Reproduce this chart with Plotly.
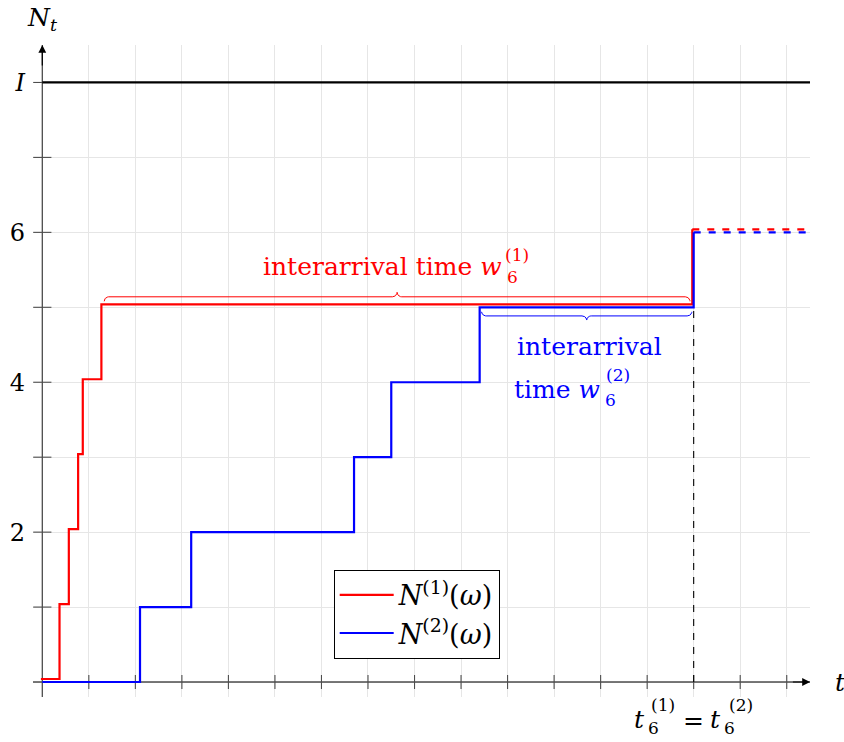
import numpy as np
import plotly.graph_objects as go

# Arrival times of the two counting-process paths
red_jumps = [0.4, 0.6, 0.8, 0.9, 1.3, 14.0]
blue_jumps = [2.1, 3.2, 6.7, 7.5, 9.4, 14.0]
t_max = 16.5
level_I = 8
y_tickvals = [2, 4, 6, 8]
y_ticktext = ["2", "4", "6", "<i>I</i>"]
x_grid = list(range(0, 17))
y_grid = list(range(0, 9))

RED = "#ff0000"
BLUE = "#0000ff"
AXIS = "#4d4d4d"
GRID = "#e6e6e6"
FONT = "DejaVu Serif"
FS = 24      # main text size
FS_L = 25    # annotation text size
FS_S = 17    # sub/superscript size

# small display offset so the red path stays visible on top of the blue one
red_dx, red_dy = -0.03, 0.04


def step_path(jumps):
    xs, ys = [0.0], [0.0]
    for k, t in enumerate(jumps):
        xs += [t, t]
        ys += [k, k + 1]
    return xs, ys


def brace_path(x0, x1, y, amp, rx, n=14):
    """Curly brace from x0 to x1 at height y; amp>0 points up, amp<0 down."""
    xm = 0.5 * (x0 + x1)
    h = 0.5 * amp
    th = np.linspace(0, np.pi / 2, n)
    lx = np.concatenate([x0 + rx - rx * np.cos(th), xm - rx + rx * np.sin(th)])
    ly = np.concatenate([y + h * np.sin(th), y + 2 * h - h * np.cos(th)])
    rx_ = 2 * xm - lx[::-1]
    ry_ = ly[::-1]
    return np.concatenate([lx, rx_]), np.concatenate([ly, ry_])


fig = go.Figure()

# axes lines (drawn first so the paths sit above them)
fig.add_trace(go.Scatter(x=[-0.2, t_max], y=[0, 0], mode="lines",
                         line=dict(color=AXIS, width=1.3), showlegend=False, hoverinfo="skip"))
fig.add_trace(go.Scatter(x=[0, 0], y=[-0.2, 8.5], mode="lines",
                         line=dict(color=AXIS, width=1.3), showlegend=False, hoverinfo="skip"))
# tick marks crossing the axes
fig.add_trace(go.Scatter(x=x_grid[1:], y=[0] * (len(x_grid) - 1), mode="markers",
                         marker=dict(symbol="line-ns", size=10, line=dict(color=AXIS, width=1.1)),
                         showlegend=False, hoverinfo="skip"))
fig.add_trace(go.Scatter(x=[0] * (len(y_grid) - 1), y=y_grid[1:], mode="markers",
                         marker=dict(symbol="line-ew", size=13, line=dict(color=AXIS, width=1.1)),
                         showlegend=False, hoverinfo="skip"))

# upper bound I
fig.add_trace(go.Scatter(x=[0, t_max], y=[level_I, level_I], mode="lines",
                         line=dict(color="black", width=2.2), showlegend=False, hoverinfo="skip"))

# common sixth arrival time
t6 = blue_jumps[-1]
fig.add_trace(go.Scatter(x=[t6, t6], y=[0, len(blue_jumps) - 1], mode="lines",
                         line=dict(color="black", width=1.1, dash="7px,7px"),
                         showlegend=False, hoverinfo="skip"))

# sample paths
bx, by = step_path(blue_jumps)
rx, ry = step_path(red_jumps)
fig.add_trace(go.Scatter(x=[v + red_dx for v in rx], y=[v + red_dy for v in ry], mode="lines",
                         line=dict(color=RED, width=2.2),
                         name="<i>N</i><sup>(1)</sup>(<i>ω</i>)"))
fig.add_trace(go.Scatter(x=bx, y=by, mode="lines", line=dict(color=BLUE, width=2.2),
                         name="<i>N</i><sup>(2)</sup>(<i>ω</i>)"))
# continuation after the last arrival
fig.add_trace(go.Scatter(x=[red_jumps[-1] + red_dx, t_max],
                         y=[len(red_jumps) + red_dy] * 2, mode="lines",
                         line=dict(color=RED, width=2.2, dash="7px,8px"),
                         showlegend=False, hoverinfo="skip"))
fig.add_trace(go.Scatter(x=[blue_jumps[-1], t_max], y=[len(blue_jumps)] * 2, mode="lines",
                         line=dict(color=BLUE, width=2.2, dash="7px,8px"),
                         showlegend=False, hoverinfo="skip"))

# braces marking the sixth interarrival times
k5 = len(red_jumps) - 1
rbx, rby = brace_path(red_jumps[-2] + 0.03, red_jumps[-1] - 0.08, k5 + 0.08, 0.12, 0.1)
fig.add_trace(go.Scatter(x=rbx, y=rby, mode="lines", line=dict(color=RED, width=1),
                         showlegend=False, hoverinfo="skip"))
bbx, bby = brace_path(blue_jumps[-2] + 0.04, blue_jumps[-1] - 0.04, k5 - 0.06, -0.11, 0.1)
fig.add_trace(go.Scatter(x=bbx, y=bby, mode="lines", line=dict(color=BLUE, width=1),
                         showlegend=False, hoverinfo="skip"))


def label(x, y, text, dx=0, dy=0, size=FS_L, color="black", xanchor="center", xref="x", yref="y"):
    fig.add_annotation(x=x, y=y, xref=xref, yref=yref, text=text, showarrow=False,
                       xanchor=xanchor, yanchor="middle", xshift=dx, yshift=-dy,
                       font=dict(family=FONT, size=size, color=color))


# red label above the red brace
rmid = 0.5 * (red_jumps[-2] + red_jumps[-1])
label(rmid, k5, "interarrival time <i>w</i>", dx=106, dy=-41, color=RED, xanchor="right")
label(rmid, k5, "6", dx=107, dy=-30, size=FS_S, color=RED, xanchor="left")
label(rmid, k5, "(1)", dx=105, dy=-52, size=FS_S, color=RED, xanchor="left")

# blue label below the blue brace
bmid = 0.5 * (blue_jumps[-2] + blue_jumps[-1])
label(bmid, k5, "interarrival", dx=-72, dy=39, color=BLUE, xanchor="left")
label(bmid, k5, "time <i>w</i>", dx=15, dy=82, color=BLUE, xanchor="right")
label(bmid, k5, "6", dx=16, dy=93, size=FS_S, color=BLUE, xanchor="left")
label(bmid, k5, "(2)", dx=17, dy=68, size=FS_S, color=BLUE, xanchor="left")

# label of the common arrival time on the t axis
label(t6, 0, "<i>t</i>", dx=-47, dy=37, xanchor="right")
label(t6, 0, "6", dx=-48, dy=46, size=FS_S, xanchor="left")
label(t6, 0, "(1)", dx=-45, dy=23, size=FS_S, xanchor="left")
label(t6, 0, "=", dx=0, dy=38)
label(t6, 0, "<i>t</i>", dx=29, dy=37, xanchor="right")
label(t6, 0, "6", dx=28, dy=46, size=FS_S, xanchor="left")
label(t6, 0, "(2)", dx=33, dy=23, size=FS_S, xanchor="left")

# axis names
label(0, 1, "<i>N</i><sub><i>t</i></sub>", dx=0, dy=-26, yref="paper")
label(1, 0, "<i>t</i>", dx=30, dy=0, xref="paper")

# arrow heads at the axis ends
for (hx, hy, tx, ty) in [(t_max, 0, t_max - 0.4, 0), (0, 8.5, 0, 8.2)]:
    fig.add_annotation(x=hx, y=hy, ax=tx, ay=ty, xref="x", yref="y", axref="x", ayref="y",
                       text=" ", showarrow=True, arrowhead=2, arrowsize=1.3, arrowwidth=1.2,
                       arrowcolor="black", font=dict(size=1))

fig.update_layout(
    width=844, height=742,
    margin=dict(l=33, r=34, t=45, b=45, autoexpand=False),
    paper_bgcolor="white", plot_bgcolor="white",
    font=dict(family=FONT, size=FS, color="black"),
    showlegend=True,
    legend=dict(x=0.387, y=0.195, xanchor="left", yanchor="top",
                bordercolor="black", borderwidth=1, bgcolor="white", itemwidth=54,
                font=dict(family=FONT, size=27), tracegroupgap=0),
    xaxis=dict(range=[-0.2, t_max], tickvals=x_grid, showticklabels=False, ticks="",
               showgrid=True, gridcolor=GRID, gridwidth=1, zeroline=False, showline=False,
               automargin=False, fixedrange=True),
    yaxis=dict(range=[-0.2, 8.5], tickvals=y_tickvals, ticktext=y_ticktext, ticks="",
               showgrid=True, gridcolor=GRID, gridwidth=1, zeroline=False, showline=False,
               minor=dict(tickvals=y_grid, showgrid=True, gridcolor=GRID, gridwidth=1, ticks=""),
               ticklabelstandoff=7, tickfont=dict(family=FONT, size=FS),
               automargin=False, fixedrange=True),
)

fig.write_html("out.html")
